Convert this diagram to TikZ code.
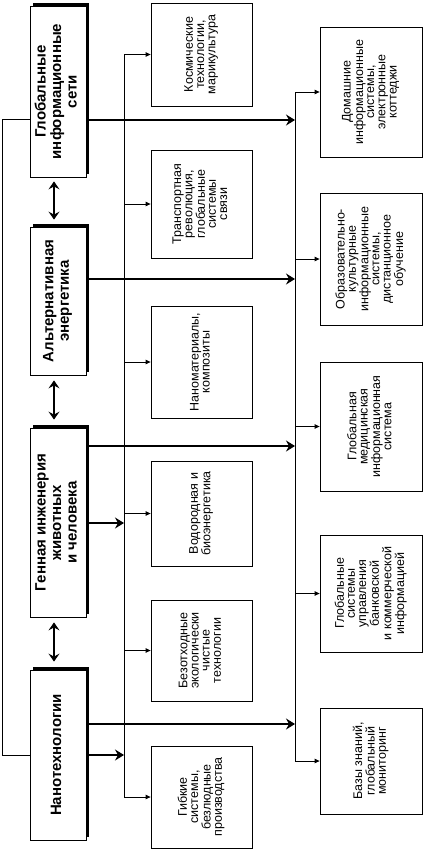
\documentclass[tikz,border=0pt]{standalone}
\usepackage{fontspec}
\setmainfont{Liberation Sans}
\usepackage{graphicx}
\usetikzlibrary{arrows.meta,shadows}
\newcommand\vtxt[1]{\rotatebox{90}{\begin{tabular}{@{}c@{}}#1\end{tabular}}}
\begin{document}
\begin{tikzpicture}[x=1pt,y=-1pt,
  lbox/.style={draw, fill=white, line width=0.8pt, inner sep=0pt, minimum width=56pt,
    general shadow={fill=black, shadow xshift=2.5pt, shadow yshift=3.5pt},
    font=\bfseries\fontsize{15}{15.5}\selectfont},
  mbox/.style={draw, fill=white, line width=0.8pt, inner sep=0pt, minimum width=101pt,
    font=\fontsize{12.5}{11.2}\selectfont},
  rbox/.style={draw, fill=white, line width=0.8pt, inner sep=0pt, minimum width=102pt,
    font=\fontsize{12.5}{11.2}\selectfont},
  bus/.style={line width=0.8pt},
  tarr/.style={line width=0.8pt, -{Triangle[length=5pt,width=4.5pt]}},
  big/.style={line width=1.3pt, -{Stealth[length=9pt,width=11pt,inset=3pt]}},
  dbl/.style={line width=1.3pt, {Stealth[length=8pt,width=11pt,inset=3pt]}-{Stealth[length=8pt,width=11pt,inset=3pt]}}
]
\useasboundingbox (0,0) rectangle (423,849);

% left column
\node[lbox, minimum height=171pt] (g1) at (58,91.5) {\vtxt{Глобальные\\информационные\\сети}};
\node[lbox, minimum height=148pt] (g2) at (58,301) {\vtxt{Альтернативная\\энергетика}};
\node[lbox, minimum height=189pt] (g3) at (58,522.5) {\vtxt{Генная инженерия\\животных\\и человека}};
\node[lbox, minimum height=170pt] (g4) at (58,755) {\vtxt{Нанотехнологии}};

% middle column
\node[mbox, minimum height=103pt] (m1) at (201.5,54.5) {\vtxt{Космические\\технологии,\\марикультура}};
\node[mbox, minimum height=108pt] (m2) at (201.5,204) {\vtxt{Транспортная\\революция,\\глобальные\\системы\\связи}};
\node[mbox, minimum height=112pt] (m3) at (201.5,362) {\vtxt{Наноматериалы,\\композиты}};
\node[mbox, minimum height=105pt] (m4) at (201.5,513.5) {\vtxt{Водородная и\\биоэнергетика}};
\node[mbox, minimum height=101pt] (m5) at (201.5,650.5) {\vtxt{Безотходные\\экологически\\чистые\\технологии}};
\node[mbox, minimum height=102pt] (m6) at (201.5,797) {\vtxt{Гибкие\\системы,\\безлюдные\\производства}};

% right column
\node[rbox, minimum height=130pt] (r1) at (371,92) {\vtxt{Домашние\\информационные\\системы,\\электронные\\коттеджи}};
\node[rbox, minimum height=132pt] (r2) at (371,259) {\vtxt{Образовательно-\\культурные\\информационные\\системы,\\дистанционное\\обучение}};
\node[rbox, minimum height=129pt] (r3) at (371,426.5) {\vtxt{Глобальная\\медицинская\\информационная\\система}};
\node[rbox, minimum height=117pt] (r4) at (371,593.5) {\vtxt{Глобальные\\системы\\управления\\банковской\\и коммерческой\\информацией}};
\node[rbox, minimum height=106pt] (r5) at (371,761) {\vtxt{Базы знаний,\\глобальный\\мониторинг}};

% bus coordinates
\coordinate (bm) at (124,0);
\coordinate (br) at (295,0);
\coordinate (lp) at (2,119);
\coordinate (dx) at (54,0);
\coordinate (y1) at (0,120);
\coordinate (y2) at (0,279);
\coordinate (y3) at (0,446);
\coordinate (y4) at (0,523);
\coordinate (y5) at (0,724);

% middle bus
\draw[bus] (bm |- m1.west) -- (bm |- m6.west);
\foreach \n in {m1,m2,m3,m4,m5,m6} \draw[tarr] (bm |- \n.west) -- (\n.west);

% right bus
\draw[bus] (br |- r1.west) -- (br |- r5.west);
\foreach \n in {r1,r2,r3,r4,r5} \draw[tarr] (br |- \n.west) -- (\n.west);

% left loop
\draw[bus] (g1.west |- lp) -- (lp) |- (g4.west);

% big arrows
\draw[big] (g1.east |- y1) -- (br |- y1);
\draw[big] (g2.east |- y2) -- (br |- y2);
\draw[big] (g3.east |- y3) -- (br |- y3);
\draw[big] (g3.east |- y4) -- (bm |- y4);
\draw[big] (g4.east |- y5) -- (br |- y5);
\draw[big] (g4.east) -- (bm |- g4.east);

% double arrows
\draw[dbl, shorten <=4pt, shorten >=7pt] (g1.south -| dx) -- (g2.north -| dx);
\draw[dbl, shorten <=5pt, shorten >=8pt] (g2.south -| dx) -- (g3.north -| dx);
\draw[dbl, shorten <=5pt, shorten >=8pt] (g3.south -| dx) -- (g4.north -| dx);
\end{tikzpicture}
\end{document}
